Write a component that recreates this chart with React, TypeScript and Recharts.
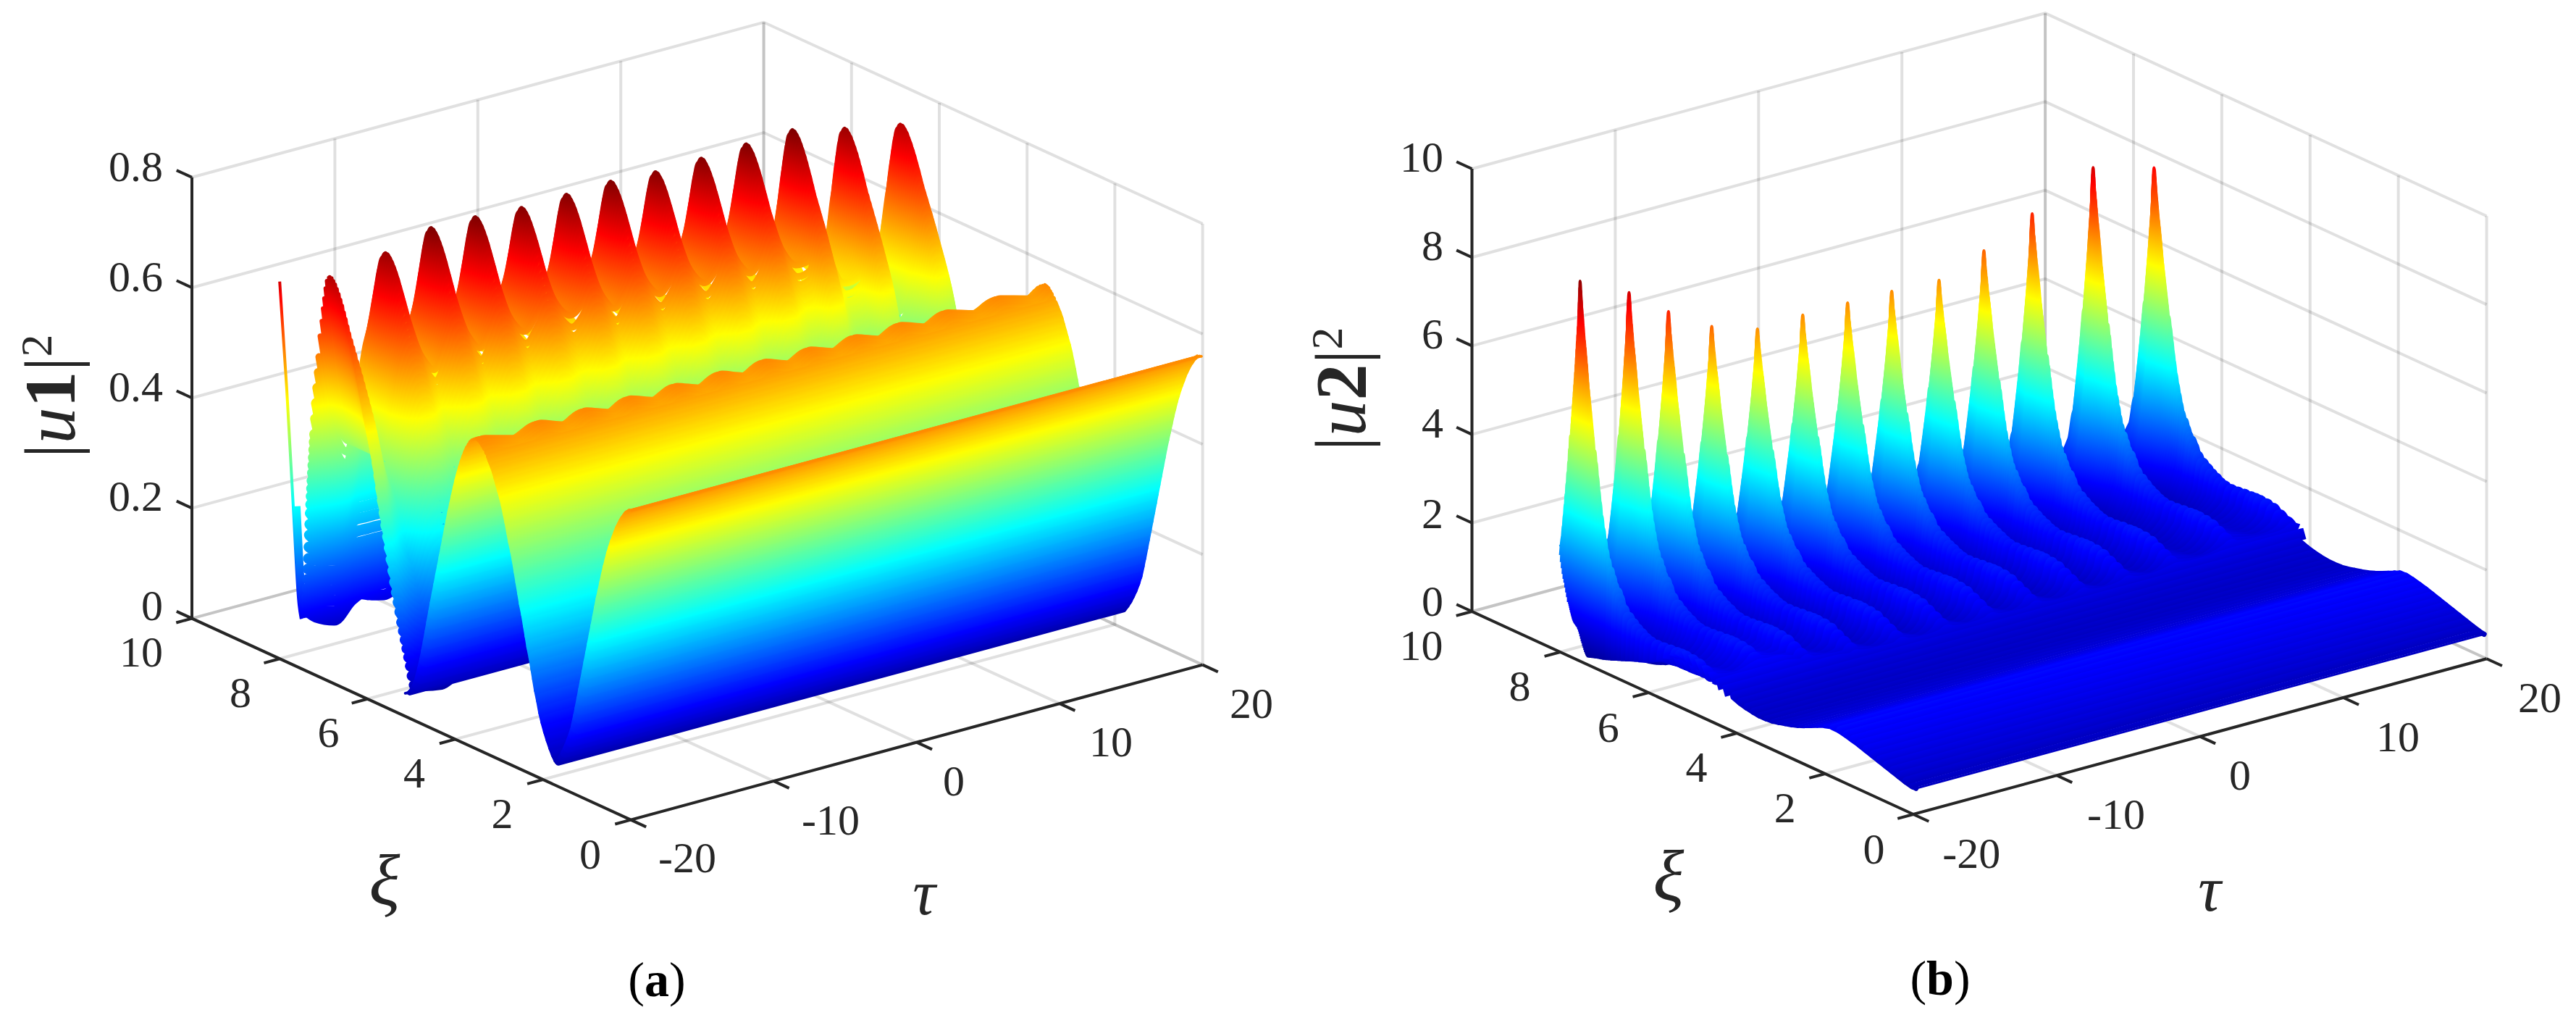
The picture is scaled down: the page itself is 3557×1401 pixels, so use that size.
import React from "react"
import { Line, LineChart, XAxis, YAxis } from "recharts"

const W = 3557
const H = 1401
const FONT = "Liberation Serif"

// tick labels
const tauTicks = [-20, -10, 0, 10, 20]
const xiTicks = [0, 2, 4, 6, 8, 10]
const u1Ticks = [0, 0.2, 0.4, 0.6, 0.8]
const u2Ticks = [0, 2, 4, 6, 8, 10]

// matlab jet
const jetStops = [
  [0, "#000080"],
  [0.125, "#0000ff"],
  [0.375, "#00ffff"],
  [0.625, "#ffff00"],
  [0.875, "#ff0000"],
  [1, "#800000"],
] as const

// ---- |u1|^2
const u1PeakTau = [-19.27, -15.37, -12.18, -9.09, -5.85, -2.71, 0.38, 3.52, 6.72, 9.86, 13.1, 16.75, 20.65]
const u1PeakTop = [0.72, 0.736, 0.759, 0.757, 0.751, 0.753, 0.755, 0.75, 0.752, 0.756, 0.759, 0.736, 0.716]
const u1GapTau = [-17.3, -13.8, -10.6, -7.5, -4.3, -1.2, 1.95, 5.1, 8.3, 11.5, 14.9, 18.7]
const u1GapTop = [0.4, 0.535, 0.552, 0.56, 0.567, 0.558, 0.562, 0.56, 0.555, 0.547, 0.49, 0.412]

const u1FinXi = [7.64, 7.63, 7.62, 7.61, 7.6, 7.59, 7.58, 7.57, 7.56, 7.55, 7.54, 7.53, 7.52, 7.51, 7.5, 7.49, 7.48, 7.47, 7.46, 7.45, 7.44, 7.42, 7.4, 7.38, 7.36, 7.34, 7.31, 7.28, 7.25, 7.22, 7.19, 7.16, 7.13, 7.1,
  7.06, 7.02, 6.98, 6.94, 6.9, 6.86, 6.82, 6.78, 6.74, 6.7, 6.66, 6.62, 6.58, 6.54, 6.5, 6.46, 6.42, 6.38, 6.34, 6.3, 6.26, 6.22, 6.18, 6.14, 6.1, 6.06, 6.02, 5.98, 5.94, 5.9, 5.86, 5.82, 5.78, 5.74, 5.7, 5.66, 5.62, 5.58, 5.54, 5.5, 5.46, 5.42, 5.38, 5.34, 5.3, 5.26, 5.22, 5.19]
const u1FinCrest = [0.1, 0.112, 0.125, 0.142, 0.16, 0.18, 0.2, 0.222, 0.245, 0.266, 0.287, 0.304, 0.32, 0.335, 0.35, 0.365, 0.38, 0.395, 0.41, 0.425, 0.44, 0.47, 0.5, 0.53, 0.56, 0.59, 0.63, 0.66, 0.685, 0.705, 0.725, 0.74, 0.748, 0.75,
  0.749, 0.745, 0.74, 0.733, 0.725, 0.716, 0.706, 0.695, 0.684, 0.672, 0.66, 0.648, 0.636, 0.624, 0.612, 0.6, 0.588, 0.575, 0.562, 0.549, 0.536, 0.522, 0.508, 0.494, 0.478, 0.46, 0.44, 0.418, 0.396, 0.374, 0.352, 0.33, 0.31, 0.29, 0.27, 0.25, 0.23, 0.212, 0.195, 0.178, 0.16, 0.145, 0.13, 0.115, 0.1, 0.085, 0.068, 0.052]
const u1FinGap = [0.16, 0.2, 0.25, 0.3, 0.35, 0.39, 0.44, 0.47, 0.5, 0.53, 0.57, 0.585, 0.6, 0.615, 0.63, 0.645, 0.66, 0.675, 0.69, 0.705, 0.72, 0.75, 0.79, 0.84, 0.89, 0.95, 1, 1, 1, 1, 1, 1, 1, 1,
  1, 1, 1, 1, 1, 1, 1, 1, 1, 1, 1, 1, 1, 1, 1, 0.965, 0.94, 0.92, 0.9, 0.875, 0.85, 0.83, 0.8, 0.78, 0.75, 0.72, 0.68, 0.645, 0.61, 0.58, 0.56, 0.55, 0.52, 0.49, 0.46, 0.42, 0.39, 0.36, 0.33, 0.3, 0.27, 0.25, 0.22, 0.2, 0.17, 0.145, 0.115, 0.09]

const u1BackXi = [5.17, 5.1, 5.04, 4.98, 4.92, 4.87, 4.82, 4.78, 4.74, 4.7, 4.66, 4.62, 4.58, 4.54, 4.5, 4.46, 4.42, 4.38, 4.34, 4.3, 4.26, 4.22, 4.18, 4.14, 4.1, 4.06, 4.02, 3.98, 3.94, 3.9, 3.86, 3.82, 3.78, 3.74, 3.7, 3.66, 3.62, 3.58]
const u1BackZ = [0.04, 0.043, 0.05, 0.06, 0.075, 0.092, 0.11, 0.128, 0.146, 0.165, 0.184, 0.203, 0.222, 0.24, 0.258, 0.276, 0.294, 0.312, 0.33, 0.348, 0.366, 0.384, 0.402, 0.418, 0.434, 0.45, 0.465, 0.479, 0.492, 0.504, 0.515, 0.525, 0.534, 0.542, 0.549, 0.554, 0.557, 0.559]
const u1MidXi = [3.55, 3.51, 3.47, 3.43, 3.39, 3.34, 3.3, 3.26, 3.21, 3.17, 3.13, 3.09, 3.05, 3, 2.96, 2.92, 2.88, 2.84, 2.8, 2.75, 2.71, 2.67, 2.63, 2.59, 2.55, 2.5, 2.46, 2.42, 2.38, 2.33, 2.29, 2.25, 2.21, 2.16, 2.11, 2.06, 2, 1.94, 1.88, 1.82, 1.76]
const u1MidZ = [0.56, 0.559, 0.557, 0.553, 0.549, 0.543, 0.537, 0.53, 0.522, 0.514, 0.504, 0.494, 0.484, 0.472, 0.46, 0.446, 0.432, 0.416, 0.4, 0.384, 0.368, 0.35, 0.332, 0.314, 0.296, 0.278, 0.26, 0.242, 0.224, 0.206, 0.188, 0.17, 0.152, 0.135, 0.115, 0.1, 0.085, 0.072, 0.06, 0.05, 0.042]
const u1NearXi = [1.73, 1.66, 1.6, 1.54, 1.48, 1.42, 1.37, 1.32, 1.28, 1.24, 1.2, 1.16, 1.12, 1.08, 1.04, 1, 0.96, 0.92, 0.88, 0.84, 0.8, 0.76, 0.72, 0.68, 0.64, 0.6, 0.56, 0.52, 0.48, 0.44, 0.4, 0.36, 0.32, 0.28, 0.24, 0.2, 0.16, 0.12, 0.08, 0.04, 0]
const u1NearZ = [0.04, 0.05, 0.06, 0.072, 0.085, 0.1, 0.115, 0.135, 0.152, 0.17, 0.188, 0.206, 0.224, 0.242, 0.26, 0.278, 0.296, 0.314, 0.332, 0.35, 0.368, 0.384, 0.4, 0.416, 0.432, 0.446, 0.46, 0.472, 0.484, 0.494, 0.504, 0.514, 0.522, 0.53, 0.537, 0.543, 0.549, 0.553, 0.557, 0.559, 0.56]
// the blade at the tau=-20 edge, far left of the surface
const u1BladeXi = [8, 7.84, 7.69, 7.56, 7.51]
const u1BladeZ = [0.684, 0.496, 0.286, 0.115, 0.09]

// ---- |u2|^2
const u2PeakTau = [-19.85, -16.43, -13.68, -10.66, -7.47, -4.31, -1.18, 1.9, 5.2, 8.33, 11.7, 15.95, 20.2]
const u2PeakTop = [8.55, 7.99, 7.32, 6.72, 6.38, 6.42, 6.42, 6.41, 6.37, 6.76, 7.3, 7.97, 7.59]
const u2GapTau = [-18.2, -15.05, -12.15, -9.05, -5.9, -2.75, 0.35, 3.55, 6.75, 10, 13.8, 18.1]
const u2GapTop = [1.39, 1.55, 1.2, 1.03, 0.99, 1, 1, 0.98, 0.98, 1, 1.07, 1.2]

const u2FinXi = [8, 7.98, 7.96, 7.94, 7.92, 7.9, 7.88, 7.86, 7.84, 7.82, 7.8, 7.79, 7.78, 7.77, 7.76, 7.75, 7.74, 7.73, 7.72, 7.71, 7.7, 7.69, 7.68, 7.67, 7.66, 7.65, 7.64, 7.63, 7.62, 7.615, 7.61, 7.605, 7.6,
  7.59, 7.58, 7.565, 7.55, 7.535, 7.52, 7.505, 7.49, 7.475, 7.46, 7.445, 7.43, 7.415, 7.4, 7.385, 7.37, 7.355, 7.34, 7.325, 7.31,
  7.28, 7.25, 7.22, 7.19, 7.16, 7.12, 7.08, 7.04, 7, 6.95, 6.9, 6.85, 6.8, 6.75, 6.7, 6.65, 6.6, 6.5, 6.4, 6.3, 6.2, 6.1, 6, 5.85, 5.7, 5.55, 5.4, 5.3,
  5.2, 5.05, 4.9, 4.75, 4.6, 4.45, 4.3]
const u2FinCrest = [2.35, 2.6, 2.85, 3.1, 3.35, 3.6, 3.85, 4.1, 4.35, 4.65, 4.95, 5.1, 5.25, 5.4, 5.55, 5.7, 5.85, 6, 6.15, 6.3, 6.45, 6.62, 6.8, 6.98, 7.15, 7.32, 7.5, 7.7, 7.9, 8.08, 8.25, 8.4, 8.55,
  8.35, 8.15, 7.98, 7.8, 7.6, 7.4, 7.25, 7.1, 6.92, 6.75, 6.55, 6.35, 6.2, 6.05, 5.9, 5.75, 5.6, 5.45, 5.3, 5.15,
  4.85, 4.6, 4.3, 4, 3.75, 3.45, 3.2, 2.97, 2.75, 2.55, 2.35, 2.2, 2.05, 1.92, 1.8, 1.68, 1.6, 1.45, 1.36, 1.28, 1.22, 1.16, 1.13, 1.12, 1.13, 1.15, 1.16, 1.17,
  1.17, 1.16, 1.13, 1.05, 0.97, 0.89, 0.81]
const u2FinGap = [1, 0.96, 0.92, 0.875, 0.83, 0.8, 0.77, 0.73, 0.7, 0.67, 0.63, 0.615, 0.6, 0.585, 0.57, 0.555, 0.54, 0.53, 0.52, 0.505, 0.49, 0.48, 0.47, 0.455, 0.44, 0.435, 0.43, 0.425, 0.42, 0.42, 0.42, 0.42, 0.42,
  0.42, 0.42, 0.4, 0.39, 0.38, 0.37, 0.355, 0.34, 0.33, 0.32, 0.3, 0.28, 0.265, 0.25, 0.24, 0.23, 0.225, 0.22, 0.215, 0.21,
  0.2, 0.19, 0.18, 0.18, 0.18, 0.18, 0.18, 0.18, 0.18, 0.19, 0.2, 0.21, 0.22, 0.22, 0.23, 0.24, 0.25, 0.28, 0.3, 0.33, 0.36, 0.42, 0.44, 0.46, 0.48, 0.5, 0.5, 0.5,
  0.5, 0.52, 0.54, 0.56, 0.6, 0.65, 0.72]
const u2FinEdge = [2.35, 2.2, 2.05, 1.92, 1.8, 1.7, 1.62, 1.52, 1.42, 1.32, 1.22, 1.18, 1.14, 1.1, 1.06, 1.02, 0.99, 0.95, 0.92, 0.89, 0.86, 0.84, 0.82, 0.81, 0.8, 0.79, 0.78, 0.77, 0.76, 0.76, 0.755, 0.75, 0.75,
  0.72, 0.7, 0.66, 0.62, 0.57, 0.52, 0.47, 0.43, 0.38, 0.34, 0.3, 0.26, 0.23, 0.2, 0.185, 0.17, 0.175, 0.18, 0.185, 0.19,
  0.2, 0.21, 0.22, 0.23, 0.24, 0.25, 0.26, 0.27, 0.28, 0.3, 0.32, 0.34, 0.36, 0.38, 0.4, 0.42, 0.44, 0.48, 0.52, 0.56, 0.6, 0.63, 0.68, 0.76, 0.85, 0.96, 1.08, 1.13,
  1.17, 1.16, 1.13, 1.05, 0.97, 0.89, 0.81]
const u2FlatXi = [4.15, 4, 3.85, 3.7, 3.55, 3.4, 3.25, 3.1, 2.95, 2.8, 2.65, 2.5, 2.35, 2.2, 2.05, 1.9, 1.75, 1.6, 1.45, 1.3, 1.15, 1, 0.85, 0.7, 0.55, 0.4, 0.25, 0.1, 0]
const u2FlatZ = [0.74, 0.68, 0.64, 0.61, 0.59, 0.59, 0.6, 0.63, 0.67, 0.71, 0.76, 0.82, 0.89, 0.96, 1.03, 1.08, 1.08, 1.05, 1.01, 0.97, 0.92, 0.87, 0.82, 0.77, 0.72, 0.67, 0.62, 0.58, 0.57]

type Panel = {
  key: string
  ox: number; oy: number
  tx: number; ty: number
  xx: number; xy: number
  zs: number; cMax: number
  zTicks: number[]
}
const panelA: Panel = { key: "a", ox: 871, oy: 1131.6, tx: 19.74, ty: 5.35, xx: 60.6, xy: 27.8, zs: 761, cMax: 0.76, zTicks: u1Ticks }
const panelB: Panel = { key: "b", ox: 2642, oy: 1124, tx: 19.79, ty: 5.37, xx: 60.95, xy: 28, zs: 61.1, cMax: 8.7, zTicks: u2Ticks }

const project = (p: Panel, tau: number, xi: number, z: number) => ({
  x: p.ox + p.tx * (tau + 20) - p.xx * xi,
  y: p.oy - p.ty * (tau + 20) - p.xy * xi - p.zs * z,
})

type Pt = { x: number; y: number }
type Row = { id: string; xi: number; data: Pt[]; width: number; curve: "monotone" | "linear"; cap?: "round" | "butt" }

function strokeFor(p: Panel, xiA: number, zA: number, xiB: number, zB: number, gapStep: number, max: number, min = 3) {
  const d = Math.max(Math.abs(p.xy * (xiA - xiB) + p.zs * (zA - zB)), p.zs * gapStep)
  return Math.min(max, Math.max(min, d * 1.25 + 3))
}

type FinSet = {
  peakTau: number[]; peakTop: number[]; gapTau: number[]; gapTop: number[]
  refTop: number; base: number // crest values are for a peak of refTop, lifted above base
  shoulderTau: number; shoulderDrop: number // sharpens the peak
  edgeTau: number | null // left edge knot, null starts the row on its first peak
}

// knots of one row with fins: left edge, then shoulder / peak / shoulder / gap
function finRow(p: Panel, s: FinSet, xi: number, crest: number, gap: number, edge: number) {
  const pts = s.edgeTau === null ? [] : [project(p, s.edgeTau, xi, edge)]
  const start = s.edgeTau ?? s.peakTau[0]
  s.peakTau.forEach((t, i) => {
    const top = crest > s.base ? s.base + ((crest - s.base) * (s.peakTop[i] - s.base)) / (s.refTop - s.base) : crest
    const low = Math.min(top, gap * s.gapTop[Math.min(i, s.gapTop.length - 1)])
    const shoulder = Math.max(low, top - (top - low) * s.shoulderDrop)
    if (t - s.shoulderTau > start) pts.push(project(p, t - s.shoulderTau, xi, shoulder))
    pts.push(project(p, t, xi, top))
    pts.push(project(p, t + s.shoulderTau, xi, shoulder))
    if (i < s.gapTau.length) pts.push(project(p, s.gapTau[i], xi, low))
  })
  return pts
}

// each plain row also runs to the next row's ends, which keeps the silhouette smooth
function flatRows(p: Panel, tag: string, xis: number[], zs: number[], max: number): Row[] {
  return xis.map((xi, i) => {
    const next = Math.min(i + 1, xis.length - 1)
    const width = strokeFor(p, xi, zs[i], xis[next], zs[next], 0, max)
    const inset = width / 2 / p.tx
    const rippled = p.key === "a" && xi > 3.3 && xi < 3.8
    const a = project(p, -20 + inset, xi, zs[i])
    const b = project(p, 20 - inset, xi, zs[i])
    if (rippled) {
      const knots = u1PeakTau.slice(0, 12).flatMap((t, k) => [project(p, Math.max(t, -19.9), xi, zs[i]), project(p, u1GapTau[k], xi, zs[i] - 0.014)])
      return { id: `${tag}${i}`, xi, data: [a, ...knots, b], width, curve: "monotone", cap: "round" }
    }
    const a2 = project(p, -20 + inset, xis[next], zs[next])
    const b2 = project(p, 20 - inset, xis[next], zs[next])
    return { id: `${tag}${i}`, xi, data: [a2, a, b, b2], width, curve: "linear", cap: "round" }
  })
}

const finsA: FinSet = { peakTau: u1PeakTau, peakTop: u1PeakTop, gapTau: u1GapTau, gapTop: u1GapTop, refTop: 0.75, base: 0, shoulderTau: 0.7, shoulderDrop: 0.55, edgeTau: null }
const finsB: FinSet = { peakTau: u2PeakTau, peakTop: u2PeakTop, gapTau: u2GapTau, gapTop: u2GapTop, refTop: 8.55, base: 1.2, shoulderTau: 0.35, shoulderDrop: 0.55, edgeTau: -20 }

const rowsA: Row[] = [
  ...u1FinXi.map((xi, i) => {
    const next = Math.min(i + 1, u1FinXi.length - 1)
    const c = u1FinCrest[i]
    return {
      id: `af${i}`, xi, curve: "monotone" as const, cap: "round" as const,
      width: strokeFor(panelA, xi, c, u1FinXi[next], u1FinCrest[next], Math.abs(u1FinGap[i] - u1FinGap[next]) * 0.56, Math.min(15, 6 + Math.max(0, 0.66 - c) * 60), c < 0.62 ? 13 : 3),
      data: finRow(panelA, finsA, xi, c, u1FinGap[i], c),
    }
  }),
  ...flatRows(panelA, "ab", u1BackXi, u1BackZ, 20),
  ...flatRows(panelA, "am", u1MidXi, u1MidZ, 20),
  ...flatRows(panelA, "an", u1NearXi, u1NearZ, 20),
]

const rowsB: Row[] = [
  ...u2FinXi.map((xi, i) => {
    const next = Math.min(i + 1, u2FinXi.length - 1)
    const c = u2FinCrest[i]
    return {
      id: `bf${i}`, xi, curve: "monotone" as const,
      width: strokeFor(panelB, xi, c, u2FinXi[next], u2FinCrest[next], Math.abs(u2FinGap[i] - u2FinGap[next]) * 1.1, c > 5 ? 4 : c > 2.5 ? 6 : c > 2 ? 9 : c > 1.5 ? 13 : 18, c > 2 ? 3 : c > 1.5 ? 10 : 16),
      data: finRow(panelB, finsB, xi, c, u2FinGap[i], u2FinEdge[i]),
    }
  }),
  ...flatRows(panelB, "bl", u2FlatXi, u2FlatZ, 15),
]

const bladeA = [
  { id: "ablade0", width: 4, data: u1BladeXi.map((xi, i) => project(panelA, -20, xi, u1BladeZ[i])) },
  { id: "ablade1", width: 10, data: u1BladeXi.slice(2).map((xi, i) => project(panelA, -19.75, xi, u1BladeZ[i + 2])) },
]

// iso-height lines of a row run along tau, so the gradient runs across them
function RowGradient({ p, id, xi }: { p: Panel; id: string; xi: number }) {
  const a = project(p, -20, xi, 0)
  const len = Math.hypot(p.tx, p.ty)
  const nx = -p.ty / len
  const ny = -p.tx / len
  const span = p.cMax * p.zs * (p.tx / len)
  return (
    <linearGradient id={id} gradientUnits="userSpaceOnUse" x1={a.x} y1={a.y} x2={a.x + nx * span} y2={a.y + ny * span}>
      {jetStops.map(([o, c]) => (
        <stop key={o} offset={o} stopColor={c} />
      ))}
    </linearGradient>
  )
}

function boxLines(p: Panel) {
  const top = p.zTicks[p.zTicks.length - 1]
  const out: Pt[][] = []
  for (const z of p.zTicks) {
    out.push([project(p, -20, 10, z), project(p, 20, 10, z), project(p, 20, 0, z)])
  }
  for (const t of tauTicks) {
    out.push([project(p, t, 10, top), project(p, t, 10, 0), project(p, t, 0, 0)])
  }
  for (const xi of xiTicks) {
    out.push([project(p, 20, xi, top), project(p, 20, xi, 0), project(p, -20, xi, 0)])
  }
  return out
}

function axisLines(p: Panel) {
  const top = p.zTicks[p.zTicks.length - 1]
  const out: Pt[][] = [
    [project(p, -20, 10, top), project(p, -20, 10, 0), project(p, -20, 0, 0), project(p, 20, 0, 0)],
  ]
  for (const z of p.zTicks) out.push([project(p, -20, 10, z), project(p, -20, 10.35, z)])
  for (const xi of xiTicks) out.push([project(p, -20, xi, 0), project(p, -21.1, xi, 0)])
  for (const t of tauTicks) out.push([project(p, t, 0, 0), project(p, t, -0.35, 0)])
  return out
}

const plainLine = (key: string, data: Pt[], stroke: string, width: number, opacity = 1) => (
  <Line
    key={key}
    data={data}
    dataKey="y"
    type="linear"
    stroke={stroke}
    strokeOpacity={opacity}
    strokeWidth={width}
    dot={false}
    activeDot={false}
    legendType="none"
    isAnimationActive={false}
  />
)

const rowLine = (r: Row) => (
  <Line
    key={r.id}
    data={r.data}
    dataKey="y"
    type={r.curve}
    stroke={`url(#${r.id})`}
    strokeWidth={r.width}
    strokeLinecap={r.cap ?? "butt"}
    strokeLinejoin="round"
    dot={false}
    activeDot={false}
    legendType="none"
    isAnimationActive={false}
  />
)

const TICK = { fontFamily: FONT, fontSize: 60, fill: "#262626" }
const CENTER = { ...TICK, textAnchor: "middle" as const, dominantBaseline: "central" as const }

const labelsA = {
  z: [836, 685, 533.5, 382, 230],
  xi: [[815, 1178.5], [693.5, 1122.6], [572, 1067], [453.5, 1011], [332, 956], [195, 900]],
  tau: [[949, 1184], [1147, 1131.6], [1317, 1078], [1534, 1024], [1728, 970.6]],
}
const labelsB = {
  z: [829.7, 709, 583.5, 461, 339, 217],
  xi: [[2587.6, 1171.8], [2464.8, 1115], [2342.5, 1059], [2220.8, 1004], [2098.5, 947], [1962.5, 891]],
  tau: [[2722.3, 1177.6], [2922, 1124], [3093, 1070.3], [3311, 1016.6], [3507, 963]],
}

function Texts({ p, lab, zRight, zName, zX, zY, xiAt, tauAt, cap, capAt }: any) {
  return (
    <g>
      {p.zTicks.map((v: number, i: number) => (
        <text key={`z${v}`} x={zRight} y={lab.z[i]} {...TICK} textAnchor="end" dominantBaseline="central">{v}</text>
      ))}
      {xiTicks.map((v, i) => (
        <text key={`x${v}`} x={lab.xi[i][0]} y={lab.xi[i][1]} {...CENTER}>{v}</text>
      ))}
      {tauTicks.map((v, i) => (
        <text key={`t${v}`} x={lab.tau[i][0]} y={lab.tau[i][1]} {...CENTER}>{v}</text>
      ))}
      <text x={xiAt[0]} y={xiAt[1]} {...CENTER} fontSize={100} fontStyle="italic">ξ</text>
      <text x={tauAt[0]} y={tauAt[1]} {...CENTER} fontSize={88} fontStyle="italic">τ</text>
      <text transform={`translate(${zX} ${zY}) rotate(-90)`} {...TICK} fontSize={100} textAnchor="middle">
        |<tspan fontStyle="italic">u</tspan>
        <tspan fontWeight="bold">{zName}</tspan>|
        <tspan fontSize={62} dy={-32}>2</tspan>
      </text>
      <text x={capAt[0]} y={capAt[1]} fontFamily={FONT} fontSize={68} fill="#000" textAnchor="middle" dominantBaseline="central">
        (<tspan fontWeight="bold">{cap}</tspan>)
      </text>
    </g>
  )
}

export default function App() {
  return (
    <div style={{ position: "absolute", left: 0, top: 0, width: W, height: H, background: "#fff" }}>
      <LineChart width={W} height={H} margin={{ top: 0, right: 0, bottom: 0, left: 0 }}>
        <XAxis dataKey="x" type="number" domain={[0, W]} hide allowDataOverflow />
        <YAxis type="number" domain={[0, H]} reversed hide allowDataOverflow />
        <defs>
          {rowsA.map((r) => <RowGradient key={r.id} p={panelA} id={r.id} xi={r.xi} />)}
          {rowsB.map((r) => <RowGradient key={r.id} p={panelB} id={r.id} xi={r.xi} />)}
          <RowGradient p={panelA} id="ablade0" xi={7.8} />
          <RowGradient p={panelA} id="ablade1" xi={7.65} />
        </defs>

        {boxLines(panelA).map((d, i) => plainLine(`ga${i}`, d, "#000", 4, 0.12))}
        {boxLines(panelB).map((d, i) => plainLine(`gb${i}`, d, "#000", 4, 0.12))}

        {bladeA.map((b) => rowLine({ ...b, xi: 7.8, curve: "monotone" }))}
        {rowsA.map(rowLine)}
        {rowsB.map(rowLine)}

        {axisLines(panelA).map((d, i) => plainLine(`xa${i}`, d, "#262626", 4))}
        {axisLines(panelB).map((d, i) => plainLine(`xb${i}`, d, "#262626", 4))}

        <Texts p={panelA} lab={labelsA} zRight={225} zName="1" zX={103} zY={547} xiAt={[531, 1214]} tauAt={[1276, 1232]} cap="a" capAt={[907, 1352]} />
        <Texts p={panelB} lab={labelsB} zRight={1993} zName="2" zX={1885} zY={537} xiAt={[2304, 1208]} tauAt={[3051, 1227]} cap="b" capAt={[2679, 1350]} />
      </LineChart>
    </div>
  )
}
